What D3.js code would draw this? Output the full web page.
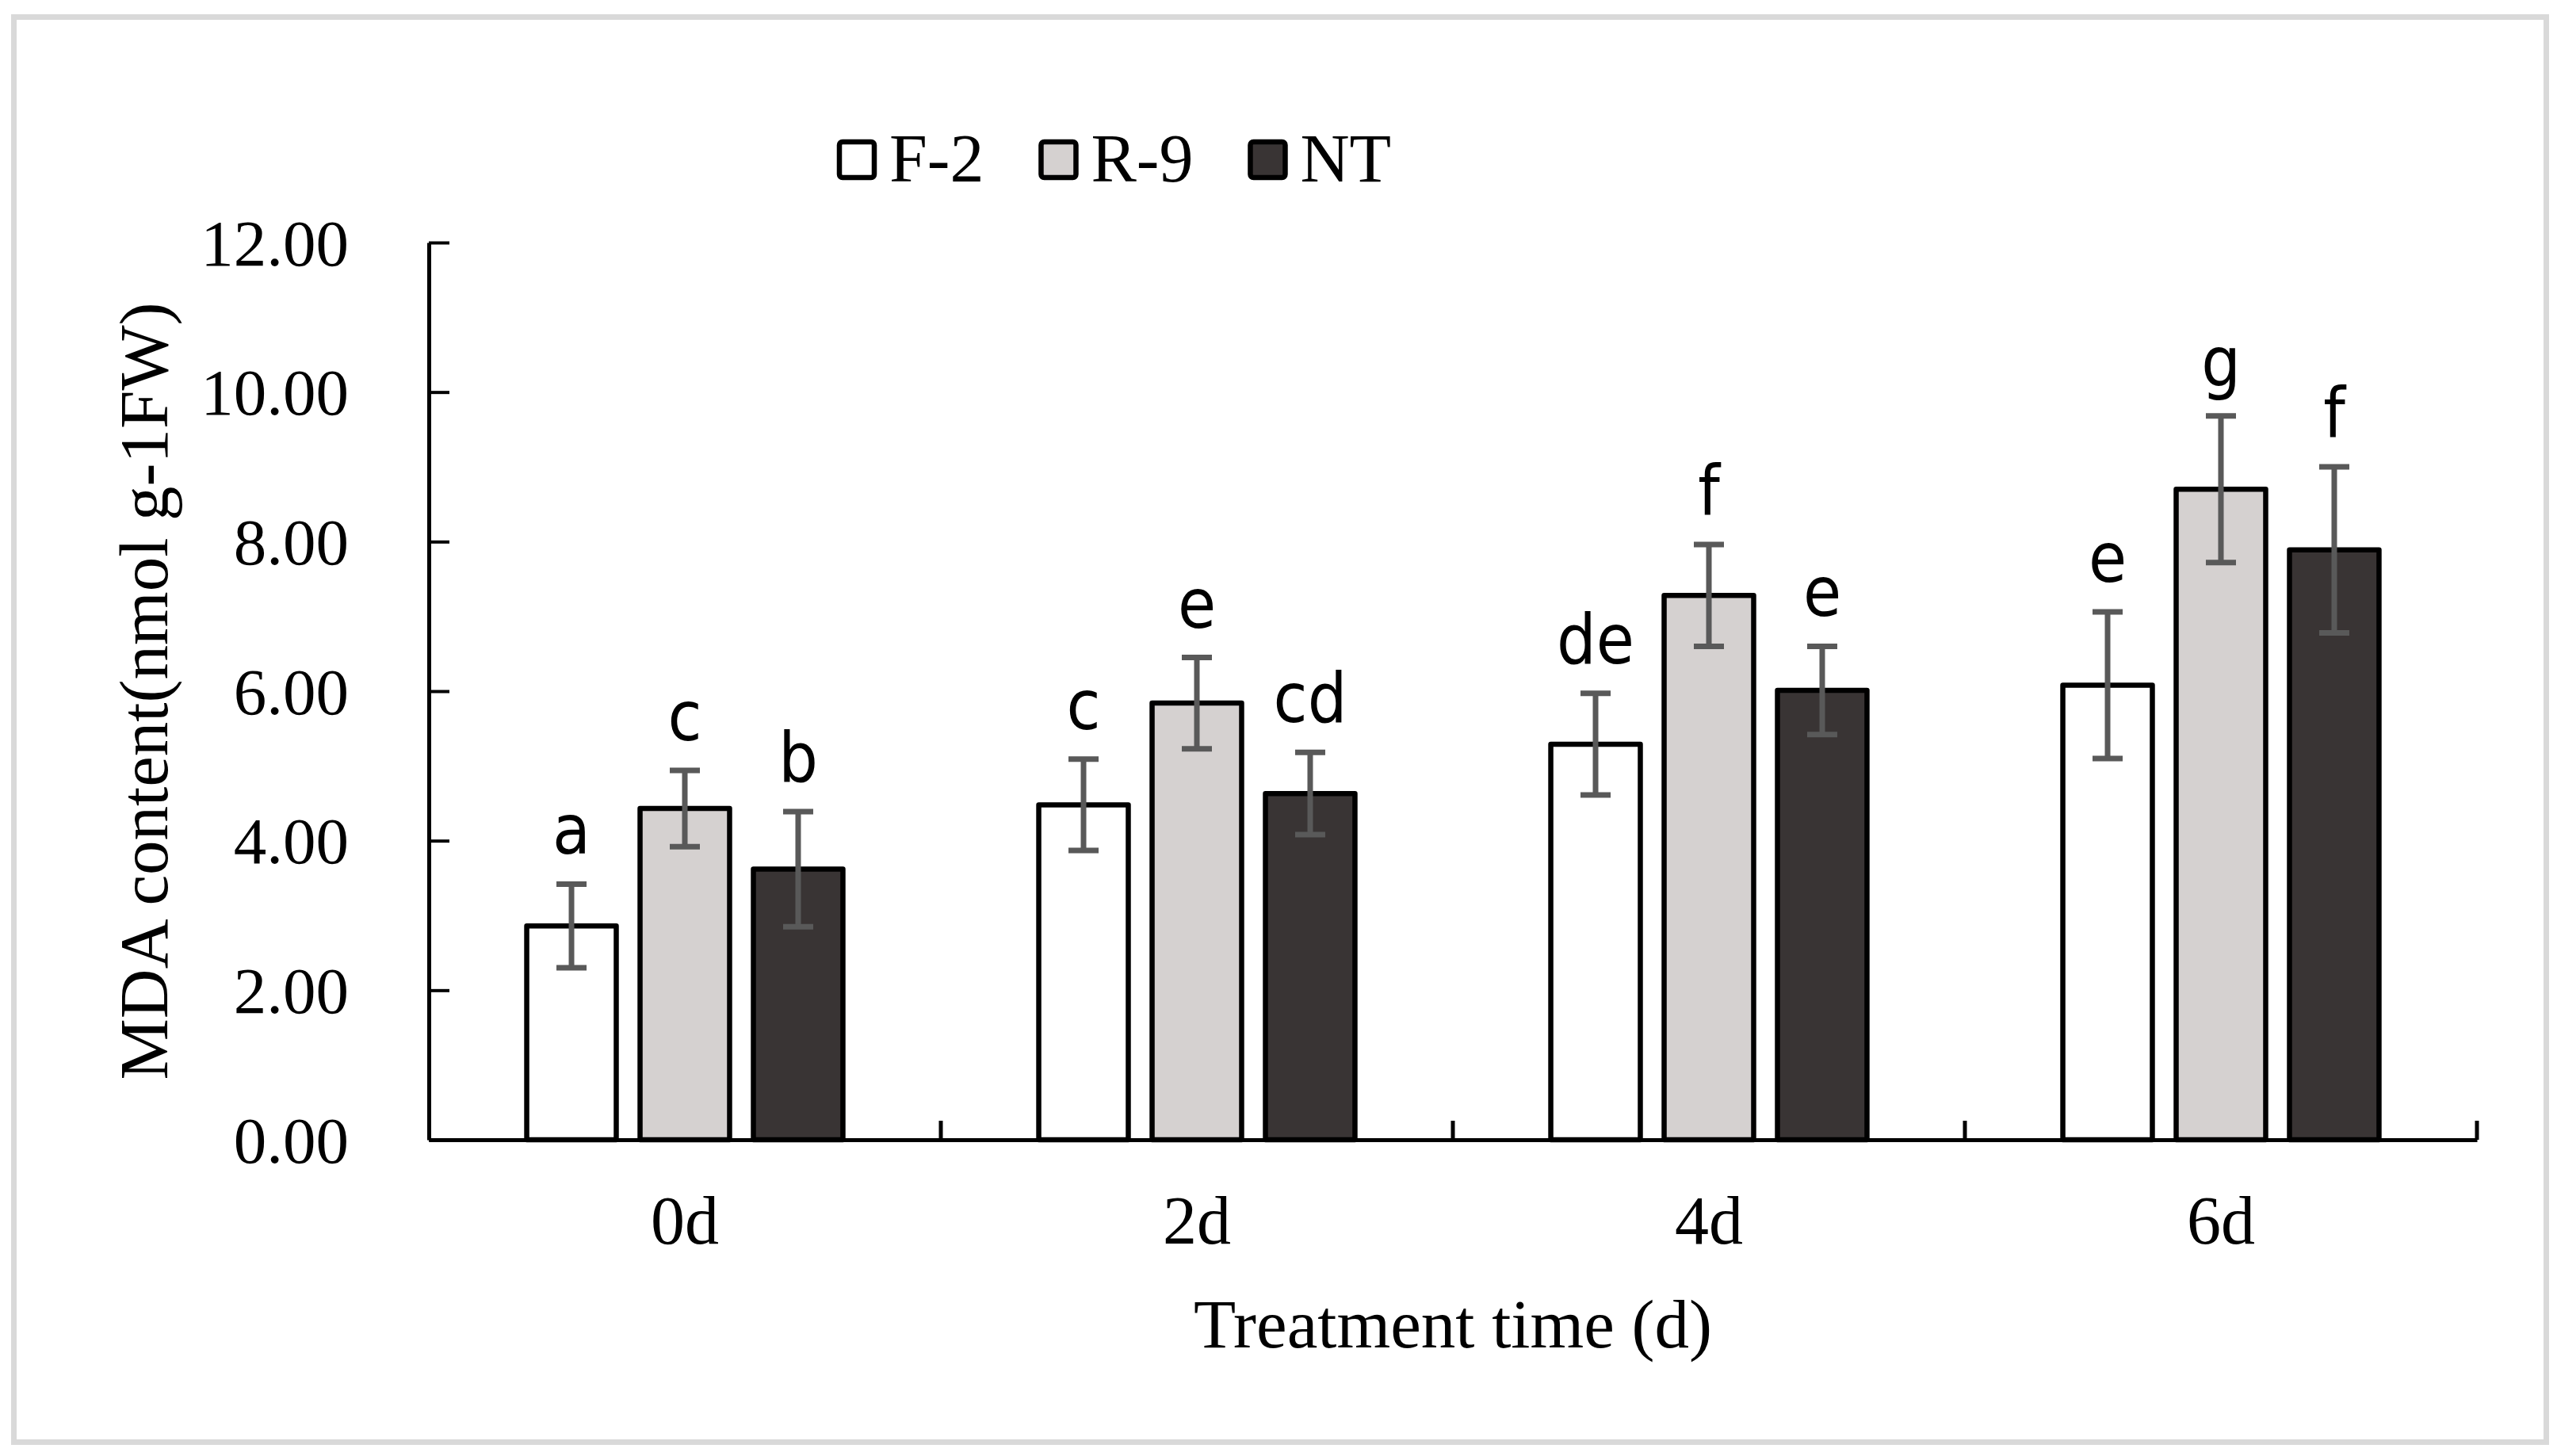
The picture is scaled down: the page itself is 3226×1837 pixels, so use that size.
<!DOCTYPE html>
<html>
<head>
<meta charset="utf-8">
<script src="https://cdn.jsdelivr.net/npm/d3@7"></script>
<style>
    body { margin: 0; background: #fff; }
    .serif { font-family: "Liberation Serif", "Times New Roman", serif; fill: #000; }
    .letter { font-family: "Liberation Sans Narrow", "DejaVu Sans Condensed", "Liberation Sans", sans-serif; fill: #000; }
</style>
</head>
<body>
<script>
(function(){

    //chart values
    var categories = ["0d", "2d", "4d", "6d"];
    var seriesNames = ["F-2", "R-9", "NT"];
    var f2Values = [2.86, 4.48, 5.29, 6.08];
    var f2Errors = [0.56, 0.61, 0.68, 0.98];
    var r9Values = [4.43, 5.84, 7.28, 8.70];
    var r9Errors = [0.51, 0.61, 0.68, 0.98];
    var ntValues = [3.62, 4.63, 6.01, 7.89];
    var ntErrors = [0.77, 0.55, 0.59, 1.11];
    var f2Letters = ["a", "c", "de", "e"];
    var r9Letters = ["c", "e", "f", "g"];
    var ntLetters = ["b", "cd", "e", "f"];
    var yTicks = [0, 2, 4, 6, 8, 10, 12];

    var seriesColors = ["#ffffff", "#d5d1d0", "#393434"];

    //frame
    var width = 3226,
        height = 1837,
        left = 541,
        right = 3125,
        top = 306,
        bottom = 1438;

    var svg = d3.select("body")
        .append("svg")
        .attr("width", width)
        .attr("height", height);

    svg.append("rect")
        .attr("width", width)
        .attr("height", height)
        .attr("fill", "#fff");

    //light grey outer border
    svg.append("rect")
        .attr("x", 17.5)
        .attr("y", 21.5)
        .attr("width", 3195)
        .attr("height", 1798)
        .attr("fill", "none")
        .attr("stroke", "#d9d9d9")
        .attr("stroke-width", 7);

    var x = d3.scaleBand()
        .domain(categories)
        .range([left, right])
        .padding(0);

    var xInner = d3.scaleBand()
        .domain(seriesNames)
        .range([0, x.bandwidth()])
        .paddingInner(0.21)
        .paddingOuter(0.864);

    var y = d3.scaleLinear()
        .domain([0, 12])
        .range([bottom, top]);

    //build rows for the bars
    var valueLists = [f2Values, r9Values, ntValues],
        errorLists = [f2Errors, r9Errors, ntErrors],
        letterLists = [f2Letters, r9Letters, ntLetters];

    var rows = [];
    categories.forEach(function(c, i){
        seriesNames.forEach(function(s, j){
            rows.push({
                cat: c,
                series: s,
                value: valueLists[j][i],
                err: errorLists[j][i],
                letter: letterLists[j][i],
                color: seriesColors[j]
            });
        });
    });

    //bars
    svg.selectAll(".bar")
        .data(rows)
        .enter()
        .append("rect")
        .attr("class", "bar")
        .attr("x", function(d){ return x(d.cat) + xInner(d.series); })
        .attr("width", xInner.bandwidth())
        .attr("y", function(d){ return y(d.value); })
        .attr("height", function(d){ return y(0) - y(d.value); })
        .attr("fill", function(d){ return d.color; })
        .attr("stroke", "#000")
        .attr("stroke-width", 6.5)
        .attr("stroke-linejoin", "round");

    //error bars
    var errG = svg.append("g")
        .attr("stroke", "#595959")
        .attr("stroke-width", 7);

    rows.forEach(function(d){
        var cx = x(d.cat) + xInner(d.series) + xInner.bandwidth() / 2;
        errG.append("line")
            .attr("x1", cx).attr("x2", cx)
            .attr("y1", y(d.value + d.err)).attr("y2", y(d.value - d.err));
        [d.value + d.err, d.value - d.err].forEach(function(v){
            errG.append("line")
                .attr("x1", cx - 19).attr("x2", cx + 19)
                .attr("y1", y(v)).attr("y2", y(v));
        });
    });

    //significance letters
    svg.selectAll(".letter")
        .data(rows)
        .enter()
        .append("text")
        .attr("class", "letter")
        .attr("x", function(d){ return x(d.cat) + xInner(d.series) + xInner.bandwidth() / 2; })
        .attr("y", function(d){ return y(d.value + d.err) - 38; })
        .attr("text-anchor", "middle")
        .style("font-size", "87px")
        .text(function(d){ return d.letter; });

    //y axis
    var yAxis = svg.append("g")
        .attr("transform", "translate(" + left + ",0)")
        .call(d3.axisLeft(y)
            .tickValues(yTicks)
            .tickFormat(d3.format(".2f"))
            .tickSizeInner(-26)
            .tickSizeOuter(0)
            .tickPadding(101));

    yAxis.select(".domain")
        .attr("stroke", "#000")
        .attr("stroke-width", 5);
    yAxis.selectAll(".tick line")
        .attr("stroke", "#000")
        .attr("stroke-width", 4);
    yAxis.selectAll(".tick text")
        .attr("class", "serif")
        .attr("dy", "0.34em")
        .style("font-size", "83px");

    //x axis
    var xAxis = svg.append("g")
        .attr("transform", "translate(0," + bottom + ")")
        .call(d3.axisBottom(x)
            .tickSize(0)
            .tickPadding(70));

    xAxis.select(".domain")
        .attr("stroke", "#000")
        .attr("stroke-width", 5);
    xAxis.selectAll(".tick text")
        .attr("class", "serif")
        .attr("dy", "0.71em")
        .style("font-size", "86px");

    //category boundary ticks pointing up
    svg.selectAll(".xtick")
        .data(categories)
        .enter()
        .append("line")
        .attr("class", "xtick")
        .attr("x1", function(d){ return x(d) + x.bandwidth(); })
        .attr("x2", function(d){ return x(d) + x.bandwidth(); })
        .attr("y1", bottom)
        .attr("y2", bottom - 24)
        .attr("stroke", "#000")
        .attr("stroke-width", 5);

    //axis titles
    svg.append("text")
        .attr("class", "serif")
        .attr("x", (left + right) / 2)
        .attr("y", 1700)
        .attr("text-anchor", "middle")
        .style("font-size", "87px")
        .text("Treatment time (d)");

    svg.append("text")
        .attr("class", "serif")
        .attr("transform", "translate(211,872) rotate(-90)")
        .attr("text-anchor", "middle")
        .style("font-size", "87px")
        .text("MDA content(nmol g-1FW)");

    //legend
    var legend = svg.append("g");
    var lx = 1059;
    seriesNames.forEach(function(s, j){
        legend.append("rect")
            .attr("x", lx)
            .attr("y", 179)
            .attr("width", 44)
            .attr("height", 45)
            .attr("rx", 4)
            .attr("fill", seriesColors[j])
            .attr("stroke", "#000")
            .attr("stroke-width", 6.5);
        var t = legend.append("text")
            .attr("class", "serif")
            .attr("x", lx + 63)
            .attr("y", 229)
            .style("font-size", "86px")
            .text(s);
        lx = lx + 63 + t.node().getComputedTextLength() + 72;
    });

})();
</script>
</body>
</html>
